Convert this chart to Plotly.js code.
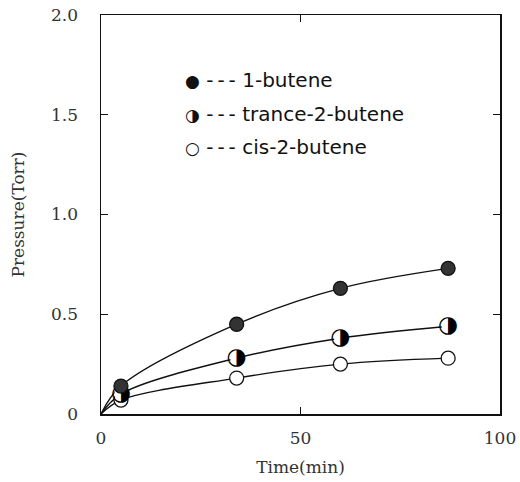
<!DOCTYPE html>
<html>
<head>
<meta charset="utf-8">
<script src="https://cdn.plot.ly/plotly-3.0.1.min.js"></script>
<style>
html,body{margin:0;padding:0;background:#fff;}
#chart{width:520px;height:482px;}
</style>
</head>
<body>
<div id="chart"></div>
<script>
// Data
const time = [5, 34, 60, 87];
const butene1 = [0.14, 0.45, 0.63, 0.73];
const trans2butene = [0.10, 0.28, 0.38, 0.44];
const cis2butene = [0.07, 0.18, 0.25, 0.28];
const seriesNames = ['1-butene', 'trance-2-butene', 'cis-2-butene'];
const xTickVals = [0, 50, 100];
const xTickText = ['0', '50', '100'];
const yTickVals = [0, 0.5, 1.0, 1.5, 2.0];
const yTickText = ['0', '0.5', '1.0', '1.5', '2.0'];

// fitted curves start at the origin
const curveT = [0].concat(time);
function curve(vals){ return [0].concat(vals); }

const lineStyle = {color:'#111', width:1.4, shape:'spline', smoothing:1};
const traces = [
  {x:curveT, y:curve(butene1), mode:'lines', line:lineStyle, showlegend:false, hoverinfo:'skip'},
  {x:curveT, y:curve(trans2butene), mode:'lines', line:lineStyle, showlegend:false, hoverinfo:'skip'},
  {x:curveT, y:curve(cis2butene), mode:'lines', line:lineStyle, showlegend:false, hoverinfo:'skip'},
  {x:time, y:cis2butene, mode:'markers', name:seriesNames[2], showlegend:false,
   marker:{symbol:'circle', size:14, color:'#fff', line:{color:'#111', width:1.3}}},
  {x:time, y:trans2butene, mode:'markers', name:seriesNames[1], showlegend:false,
   marker:{symbol:'circle', size:13, color:'#fff', line:{color:'#fff', width:0}}},
  {x:time, y:trans2butene, mode:'text', text:time.map(()=>'\u25D1'), textposition:'middle center',
   textfont:{family:'DejaVu Sans', size:23, color:'#000'}, showlegend:false, hoverinfo:'skip'},
  {x:time, y:butene1, mode:'markers', name:seriesNames[0], showlegend:false,
   marker:{symbol:'circle', size:14, color:'#333', line:{color:'#111', width:1.3}}}
];

const glyphs = ['\u25CF', '\u25D1', '\u25CB'];
const legendY = [0.837, 0.752, 0.669];
const annotations = seriesNames.map((n,i)=>({
  xref:'paper', yref:'paper', x:0.205, y:legendY[i], xanchor:'left', yanchor:'middle',
  showarrow:false, align:'left',
  text:'<span style="font-size:17px">'+glyphs[i]+'</span> -\u2009-\u2009- '+n,
  font:{family:'DejaVu Sans', size:20, color:'#111'}
}));

const axisFont = {family:'DejaVu Serif', size:17, color:'#333'};
const layout = {
  width:520, height:482,
  margin:{l:101, r:20, t:15, b:68},
  paper_bgcolor:'#fff', plot_bgcolor:'#fff',
  showlegend:false,
  xaxis:{range:[0,100], tickvals:xTickVals, ticktext:xTickText, ticks:'inside', ticklen:7,
    tickcolor:'#111', tickwidth:1.3, showline:true, linecolor:'#111', linewidth:1.5,
    mirror:'ticks', showgrid:false, zeroline:false, tickfont:axisFont, ticklabelstandoff:8,
    title:{text:'Time(min)', font:axisFont, standoff:14}},
  yaxis:{range:[0,2.0], tickvals:yTickVals, ticktext:yTickText, ticks:'inside', ticklen:7,
    tickcolor:'#111', tickwidth:1.3, showline:true, linecolor:'#111', linewidth:1.5,
    mirror:'ticks', showgrid:false, zeroline:false, tickfont:axisFont, ticklabelstandoff:18,
    title:{text:'Pressure(Torr)', font:axisFont, standoff:22}},
  annotations:annotations
};
Plotly.newPlot('chart', traces, layout, {staticPlot:true, displayModeBar:false});
</script>
</body>
</html>
